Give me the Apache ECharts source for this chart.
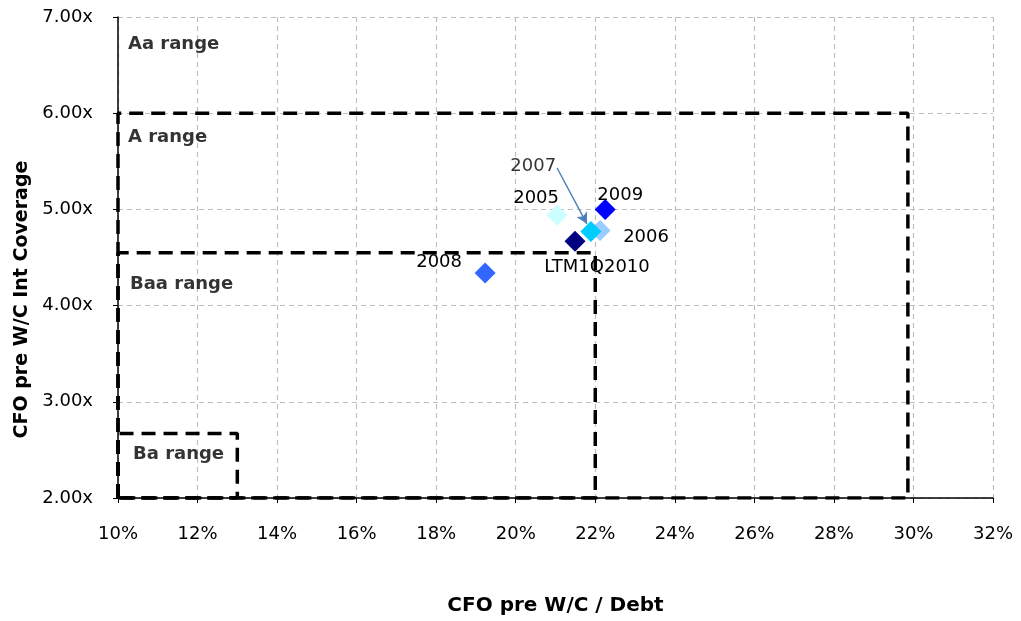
<!DOCTYPE html>
<html>
<head>
<meta charset="utf-8">
<script src="https://cdn.jsdelivr.net/npm/echarts@6/dist/echarts.min.js"></script>
<style>
html, body { margin: 0; padding: 0; background: #fff; }
#chart { width: 1021px; height: 621px; }
</style>
</head>
<body>
<div id="chart"></div>
<script>
// Credit metrics by period: CFO pre W/C / Debt (%) vs. CFO pre W/C interest coverage (x)
var periods   = ['2005', '2006', '2008', '2009', 'LTM1Q2010', '2007'];
var debtRatio = [21.04, 22.12, 19.23, 22.25, 21.49, 21.89];
var coverage  = [4.94, 4.78, 4.34, 5.00, 4.67, 4.77];

// Rating bands: upper coverage bound and upper CFO/Debt bound of each box
var rangeNames = ['Aa range', 'A range', 'Baa range', 'Ba range'];
var rangeTop   = [7.00, 6.00, 4.55, 2.67];
var rangeRight = [null, 29.86, 22.0, 13.0];
var rangeFloorX = 10;
var rangeFloorY = 2;

var xTicks = [10, 12, 14, 16, 18, 20, 22, 24, 26, 28, 30, 32];
var yTicks = [2, 3, 4, 5, 6, 7];

var pointColors = {
  '2005': '#CCFFFF', '2006': '#99CCFF', '2007': '#00CCFF',
  '2008': '#3366FF', '2009': '#0000FF', 'LTM1Q2010': '#000080'
};
// label centre relative to the marker centre, px
var labelOffset = {
  '2005': [-21, -17],
  '2006': [46, 7],
  '2008': [-46, -11],
  '2009': [15, -14],
  'LTM1Q2010': [22, 26]
};
var rangeLabelOffset = [[10, 27], [10, 24], [12, 32], [15, 21]];

var font = '"DejaVu Sans", Arial, sans-serif';

var chart = echarts.init(document.getElementById('chart'), null, { renderer: 'canvas' });

var series = [];

// dashed rating boxes
rangeNames.forEach(function (name, i) {
  if (rangeRight[i] == null) return;
  var r = rangeRight[i], t = rangeTop[i];
  series.push({
    type: 'line',
    name: name,
    data: [[rangeFloorX, rangeFloorY], [rangeFloorX, t], [r, t], [r, rangeFloorY], [rangeFloorX, rangeFloorY]],
    symbol: 'none',
    silent: true,
    z: 3,
    lineStyle: { color: '#000', width: 3.5, type: [14, 8] },
    animation: false
  });
});

// band names
series.push({
  type: 'scatter',
  name: 'bands',
  symbolSize: 0,
  silent: true,
  z: 4,
  data: rangeNames.map(function (n, i) {
    return {
      value: [rangeFloorX, rangeTop[i]],
      name: n,
      label: { offset: rangeLabelOffset[i] }
    };
  }),
  label: {
    show: true,
    position: 'right',
    distance: 0,
    formatter: '{b}',
    fontFamily: font,
    fontSize: 18,
    fontWeight: 'bold',
    color: '#000'
  },
  animation: false
});

// 2007 call-out: text with an arrow pointing at its marker
var i2007 = periods.indexOf('2007');
var calloutStart = [21.04, 5.43];
series.push({
  type: 'scatter',
  name: 'callout',
  symbolSize: 0,
  silent: true,
  z: 5,
  data: [{ value: calloutStart, name: periods[i2007] }],
  label: {
    show: true, position: 'left', distance: 0, offset: [-1, -2],
    formatter: '{b}', fontFamily: font, fontSize: 18, color: '#000'
  },
  markLine: {
    silent: true,
    symbol: ['none', 'arrow'],
    symbolSize: [9, 11],
    label: { show: false },
    lineStyle: { color: '#4A7EBB', width: 1.4, type: 'solid' },
    data: [[
      { coord: calloutStart },
      { coord: [debtRatio[i2007] - 0.1, coverage[i2007] + 0.08] }
    ]],
    animation: false
  },
  animation: false
});

// period markers
series.push({
  type: 'scatter',
  name: 'periods',
  symbol: 'diamond',
  symbolSize: 21,
  z: 6,
  data: periods.map(function (p, i) {
    var off = labelOffset[p];
    return {
      value: [debtRatio[i], coverage[i]],
      name: p,
      itemStyle: { color: pointColors[p], opacity: 1 },
      label: off ? { show: true, offset: off, color: '#000' } : { show: false }
    };
  }),
  itemStyle: { opacity: 1 },
  label: {
    show: true,
    position: 'inside',
    formatter: '{b}',
    fontFamily: font,
    fontSize: 18,
    color: '#000',
    textBorderWidth: 0
  },
  emphasis: { disabled: true },
  animation: false
});

var option = {
  backgroundColor: '#fff',
  animation: false,
  grid: { left: 118, right: 28, top: 17, bottom: 122 },
  xAxis: {
    type: 'value',
    min: xTicks[0], max: xTicks[xTicks.length - 1], interval: 2,
    name: 'CFO pre W/C / Debt',
    nameLocation: 'middle',
    nameGap: 98,
    nameTextStyle: { fontFamily: font, fontSize: 20, fontWeight: 'bold', color: '#000' },
    axisLine: { show: true, onZero: false, lineStyle: { color: '#000', width: 1.5 } },
    axisTick: { show: true, length: 5, lineStyle: { color: '#000' } },
    axisLabel: {
      fontFamily: font, fontSize: 18, color: '#000', margin: 27,
      formatter: function (v) { return v + '%'; }
    },
    splitLine: { show: true, lineStyle: { color: '#BFBFBF', type: [5, 4], width: 1.2 } }
  },
  yAxis: {
    type: 'value',
    min: yTicks[0], max: yTicks[yTicks.length - 1], interval: 1,
    name: 'CFO pre W/C Int Coverage',
    nameLocation: 'middle',
    nameGap: 85,
    nameRotate: 90,
    nameTextStyle: {
      fontFamily: font, fontSize: 19, fontWeight: 'bold', color: '#000',
      padding: [0, 84, 0, 0]
    },
    axisLine: { show: true, onZero: false, lineStyle: { color: '#000', width: 1.5 } },
    axisTick: { show: true, length: 5, lineStyle: { color: '#000' } },
    axisLabel: {
      fontFamily: font, fontSize: 18, color: '#000', margin: 25,
      formatter: function (v) { return v.toFixed(2) + 'x'; }
    },
    splitLine: { show: true, lineStyle: { color: '#BFBFBF', type: [5, 4], width: 1.2 } }
  },
  series: series
};

chart.setOption(option);
</script>
</body>
</html>
